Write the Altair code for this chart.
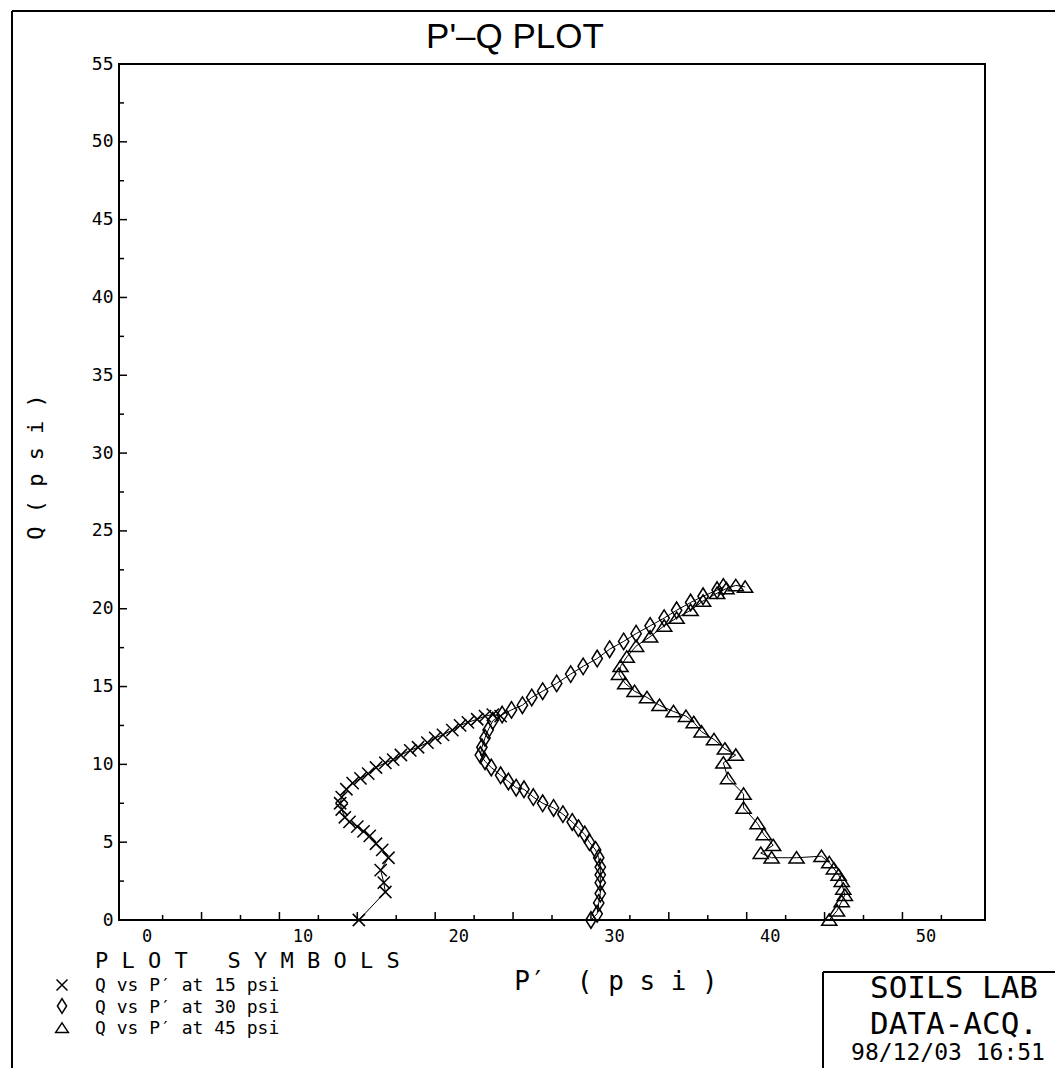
import altair as alt
import pandas as pd

# ---- data (p' in psi, q in psi) ----
p15 = [15.1, 16.8, 16.7, 16.5, 17.0, 16.6, 16.2, 15.8, 15.4, 15.0, 14.5, 14.2, 14.0, 13.9,
       14.0, 14.3, 14.7, 15.2, 15.7, 16.2, 16.8, 17.3, 17.8, 18.4, 18.9, 19.5, 20.0, 20.5,
       21.1, 21.6, 22.1, 22.7, 23.2, 23.7, 24.2]
q15 = [0.0, 1.8, 2.4, 3.2, 4.0, 4.5, 4.9, 5.4, 5.7, 6.0, 6.3, 6.6, 7.1, 7.5,
       7.9, 8.4, 8.8, 9.1, 9.4, 9.8, 10.1, 10.3, 10.6, 10.9, 11.1, 11.4, 11.7, 11.9,
       12.2, 12.5, 12.7, 12.9, 13.1, 13.2, 13.1]

p30 = [30.0, 30.4, 30.5, 30.6, 30.6, 30.6, 30.6, 30.5, 30.3, 29.9, 29.6, 29.2, 28.8, 28.2,
       27.6, 26.9, 26.3, 25.7, 25.2, 24.7, 24.2, 23.6, 23.2, 22.9, 23.0, 23.2, 23.4, 23.7,
       24.3, 24.9, 25.6, 26.2, 26.9, 27.8, 28.7, 29.5, 30.4, 31.2, 32.1, 32.9, 33.8, 34.7,
       35.5, 36.4, 37.2, 38.1, 38.5]
q30 = [0.0, 0.4, 1.1, 1.7, 2.4, 2.9, 3.4, 4.0, 4.5, 5.0, 5.5, 5.9, 6.3, 6.8,
       7.2, 7.5, 7.9, 8.4, 8.5, 8.9, 9.3, 9.8, 10.2, 10.6, 11.1, 11.7, 12.2, 12.8,
       13.2, 13.5, 13.8, 14.3, 14.7, 15.2, 15.8, 16.3, 16.8, 17.4, 17.9, 18.4, 18.9, 19.4,
       19.9, 20.4, 20.8, 21.2, 21.4]

p45 = [45.3, 45.8, 46.1, 46.3, 46.2, 46.1, 45.9, 45.6, 45.3, 44.8, 43.2, 41.6, 40.9, 41.7,
       41.1, 40.7, 39.8, 39.8, 38.8, 38.5, 39.3, 38.6, 37.9, 37.1, 36.6, 36.1, 35.3, 34.4,
       33.6, 32.8, 32.2, 31.8, 31.9, 32.3, 32.9, 33.8, 34.7, 35.5, 36.4, 37.2, 38.1, 38.7,
       39.3, 39.9]
q45 = [0.0, 0.6, 1.2, 1.6, 2.0, 2.5, 2.9, 3.3, 3.7, 4.1, 4.0, 4.0, 4.3, 4.8,
       5.5, 6.2, 7.2, 8.1, 9.1, 10.1, 10.6, 11.0, 11.6, 12.1, 12.7, 13.1, 13.4, 13.8,
       14.3, 14.7, 15.2, 15.8, 16.3, 16.9, 17.6, 18.2, 18.9, 19.4, 19.9, 20.5, 21.0, 21.3,
       21.5, 21.4]

series_names = ["15", "30", "45"]
legend_labels = ["Q vs P\u2032 at 15 psi", "Q vs P\u2032 at 30 psi", "Q vs P\u2032 at 45 psi"]
x_labels = [0, 10, 20, 30, 40, 50]
y_labels = [0, 5, 10, 15, 20, 25, 30, 35, 40, 45, 50, 55]
major_ticks = [5, 10, 15, 20, 25, 30, 35, 40, 45, 50]
minor_ticks = [2.5, 7.5, 12.5, 17.5, 22.5, 27.5, 32.5, 37.5, 42.5, 47.5, 52.5]

# ---- table ----
rows = []
for name, ps, qs in zip(series_names, [p15, p30, p45], [q15, q30, q45]):
    for i, (p, q) in enumerate(zip(ps, qs)):
        rows.append({"p": p, "q": q, "series": name, "idx": i})
df = pd.DataFrame(rows)

W, H = 866, 856
MONO = "DejaVu Sans Mono"
NB = "\u00a0"

X_PATH = "M-1,-1L1,1M-1,1L1,-1"
D_PATH = "M0,-1.2L0.75,0L0,1.2L-0.75,0Z"
T_PATH = "M0,-0.8L1,0.7L-1,0.7Z"

xs = alt.Scale(domain=[-0.3, 55.3], nice=False, zero=False)
ys = alt.Scale(domain=[0, 55], nice=False, zero=False)
xaxis = alt.Axis(values=x_labels, title=None, labelOffset=23, labelPadding=8,
                 labelFontSize=17, labelFont=MONO, labelFlush=False, labelOverlap=False)
yaxis = alt.Axis(values=y_labels, title=None, labelPadding=6, labelFontSize=18,
                 labelFont=MONO, labelFlush=False, labelOverlap=False)

base = alt.Chart(df)
line = base.mark_line(color="black", strokeWidth=1).encode(
    x=alt.X("p:Q", scale=xs, axis=xaxis),
    y=alt.Y("q:Q", scale=ys, axis=yaxis),
    detail="series:N",
    order="idx:Q",
)
pts = base.mark_point(filled=False, color="black", strokeWidth=1.5, opacity=1).encode(
    x=alt.X("p:Q", scale=xs, axis=xaxis),
    y=alt.Y("q:Q", scale=ys, axis=yaxis),
    shape=alt.Shape("series:N", scale=alt.Scale(domain=series_names,
                                                range=[X_PATH, D_PATH, T_PATH]), legend=None),
    size=alt.Size("series:N", scale=alt.Scale(domain=series_names, range=[150, 230, 220]),
                  legend=None),
)

# inward ticks
def xticks(vals, length):
    return alt.Chart(pd.DataFrame({"v": vals})).mark_rule(color="black", strokeWidth=1.5).encode(
        x=alt.X("v:Q", scale=xs, axis=xaxis), y=alt.value(H), y2=alt.value(H - length))

def yticks(vals, length):
    return alt.Chart(pd.DataFrame({"v": vals})).mark_rule(color="black", strokeWidth=1.5).encode(
        y=alt.Y("v:Q", scale=ys, axis=yaxis), x=alt.value(0), x2=alt.value(length))

def txt(t, x, y, size, font=MONO, align="left", angle=0, baseline="alphabetic"):
    return alt.Chart(pd.DataFrame({"t": [t]})).mark_text(
        align=align, baseline=baseline, font=font, fontSize=size, angle=angle,
        color="black").encode(x=alt.value(x), y=alt.value(y), text="t:N")

def hrule(x1, x2, y, w=2):
    return alt.Chart(pd.DataFrame({"a": [0]})).mark_rule(color="black", strokeWidth=w).encode(
        x=alt.value(x1), x2=alt.value(x2), y=alt.value(y))

def vrule(x, y1, y2, w=2):
    return alt.Chart(pd.DataFrame({"a": [0]})).mark_rule(color="black", strokeWidth=w).encode(
        x=alt.value(x), y=alt.value(y1), y2=alt.value(y2))

def sym(path, x, y, size):
    return alt.Chart(pd.DataFrame({"a": [0]})).mark_point(
        filled=False, color="black", strokeWidth=1.5, opacity=1, shape=path, size=size
    ).encode(x=alt.value(x), y=alt.value(y))

plot_symbols = "P L O T" + NB * 3 + "S Y M B O L S"
x_title = "P\u2032" + NB * 2 + "( p s i )"

layers = [
    # outer frame
    hrule(-107, 1000, -53), vrule(-107, -53, 1100),
    # soils lab box
    hrule(704, 1000, 908), vrule(704, 908, 1100),
    xticks(major_ticks, 8), xticks(minor_ticks, 5),
    yticks(major_ticks, 8), yticks(minor_ticks, 5),
    line, pts,
    txt("P'\u2013Q PLOT", 396, -16, 35, font="Liberation Sans", align="center"),
    txt("Q ( p s i )", -83, 403, 22, align="center", angle=270, baseline="middle"),
    txt(x_title, 497, 926, 26, align="center"),
    txt(plot_symbols, -24, 904, 22),
    txt(legend_labels[0], -24, 927, 18),
    txt(legend_labels[1], -24, 948.5, 18),
    txt(legend_labels[2], -24, 970, 18),
    sym(X_PATH, -57, 921, 120), sym(D_PATH, -57, 942, 150), sym(T_PATH, -57, 964, 160),
    txt("SOILS LAB", 835, 934, 31, align="center"),
    txt("DATA-ACQ.", 835, 970, 31, align="center"),
    txt("98/12/03 16:51", 829, 996, 23, align="center"),
]

chart = alt.layer(*layers).properties(
    width=W, height=H,
    padding={"left": 111, "top": 56, "right": 70, "bottom": 148},
    autosize=alt.AutoSizeParams(type="none"),
).configure_view(stroke="black", strokeWidth=2).configure_axis(
    grid=False, domain=False, ticks=False, labelColor="black"
)

chart.save("out.html", embed_options={"renderer": "svg", "actions": False})
